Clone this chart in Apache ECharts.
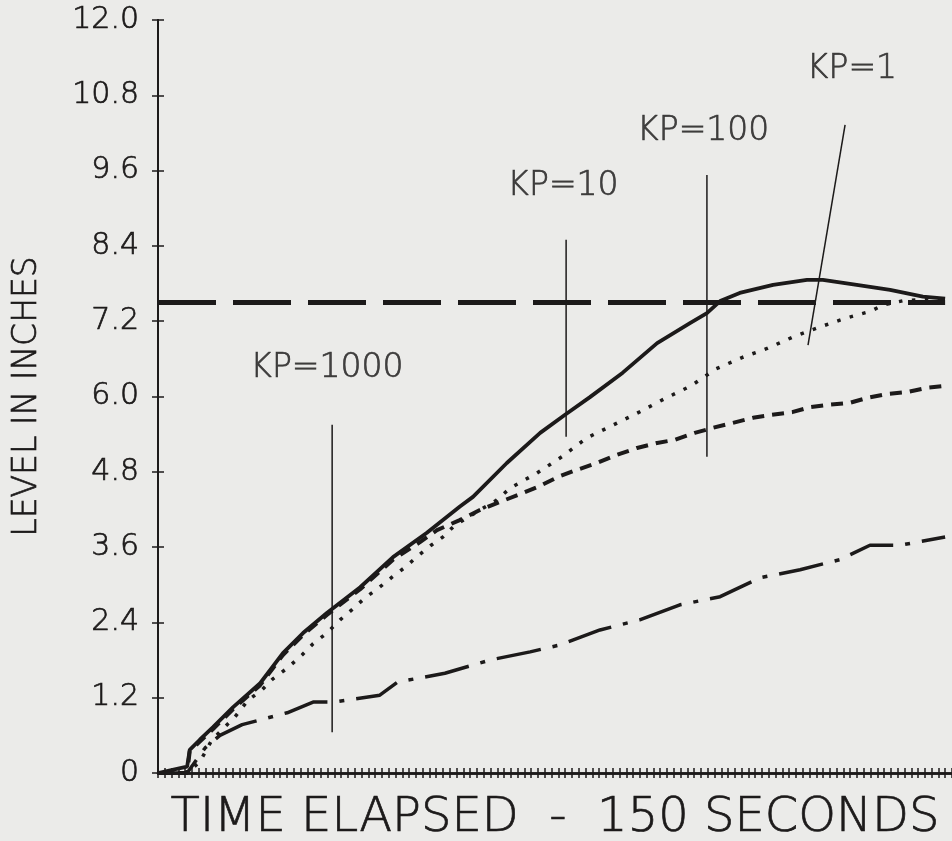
<!DOCTYPE html>
<html>
<head>
<meta charset="utf-8">
<script src="https://cdn.jsdelivr.net/npm/echarts@6/dist/echarts.min.js"></script>
<style>
  html, body { margin: 0; padding: 0; background: #ebebe9; }
  #main { width: 952px; height: 841px; }
</style>
</head>
<body>
<div id="main"></div>
<script>
// time in seconds (0..150), level in inches
const SETPOINT_T = [0, 148.7];
const SETPOINT_V = [7.5, 7.5];

const SOLID_T = [0, 5.5, 6.0, 7.9, 10.4, 14.2, 19.3, 23.6, 27.4, 31.9, 38.2, 44.4, 50.8, 57.1, 59.5, 65.9, 72.2, 76.9, 81.6, 87.8, 94.3, 100.5, 103.7, 106.2, 109.9, 116.2, 122.6, 125.6, 132.0, 138.3, 144.5, 148.7];
const SOLID_V = [0, 0.1, 0.37, 0.53, 0.73, 1.05, 1.43, 1.91, 2.23, 2.55, 2.96, 3.44, 3.83, 4.25, 4.40, 4.94, 5.42, 5.71, 5.99, 6.38, 6.85, 7.17, 7.33, 7.52, 7.65, 7.78, 7.86, 7.86, 7.78, 7.70, 7.59, 7.56];

const DOT_T = [0, 5.5, 7.9, 8.9, 10.2, 14.5, 17.0, 19.6, 21.7, 24.4, 27.2, 29.3, 31.9, 34.4, 36.6, 39.1, 41.7, 44.2, 46.7, 49.1, 51.6, 53.8, 56.1, 60.8, 64.0, 66.5, 71.6, 76.3, 81.0, 86.1, 90.9, 95.6, 100.7, 105.4, 110.3, 115.2, 120.0, 125.1, 130.0, 134.7, 137.0, 141.0, 148.7];
const DOT_V = [0, 0, 0.18, 0.33, 0.53, 0.89, 1.16, 1.32, 1.50, 1.67, 1.88, 2.06, 2.23, 2.44, 2.60, 2.79, 2.95, 3.12, 3.28, 3.46, 3.63, 3.76, 3.95, 4.19, 4.35, 4.54, 4.78, 5.04, 5.34, 5.55, 5.75, 5.96, 6.17, 6.44, 6.62, 6.77, 6.95, 7.11, 7.25, 7.36, 7.46, 7.53, 7.56];

const DASH_T = [0, 5.5, 6.0, 7.9, 10.4, 14.2, 19.3, 23.6, 27.4, 31.9, 38.2, 44.4, 49.5, 52.7, 57.0, 60.8, 64.6, 68.0, 71.8, 75.6, 79.1, 82.9, 86.7, 90.5, 94.3, 97.7, 101.4, 104.8, 108.6, 112.4, 116.0, 119.8, 123.2, 126.9, 130.7, 134.1, 137.7, 141.5, 145.3, 148.7];
const DASH_V = [0, 0, 0.35, 0.50, 0.70, 1.02, 1.40, 1.88, 2.20, 2.52, 2.93, 3.40, 3.68, 3.87, 4.03, 4.19, 4.32, 4.43, 4.56, 4.72, 4.83, 4.94, 5.07, 5.18, 5.26, 5.31, 5.42, 5.50, 5.58, 5.66, 5.71, 5.75, 5.83, 5.87, 5.90, 5.98, 6.04, 6.07, 6.14, 6.17];

const DASHDOT_T = [0, 5.5, 8.9, 11.7, 15.9, 24.4, 29.3, 33.1, 41.9, 45.3, 54.2, 62.7, 70.3, 75.9, 83.5, 91.0, 98.6, 106.2, 113.7, 121.3, 128.8, 134.5, 140.2, 148.7];
const DASHDOT_V = [0, 0, 0.40, 0.60, 0.77, 0.96, 1.13, 1.13, 1.24, 1.45, 1.59, 1.80, 1.93, 2.04, 2.28, 2.44, 2.68, 2.81, 3.11, 3.24, 3.40, 3.63, 3.63, 3.76];

// KP annotation pointer lines: [t0, v0, t1, v1]
const KP_NAMES = ['KP=1000', 'KP=10', 'KP=100', 'KP=1'];
const KP_LINES = [
  [32.9, 0.65, 32.9, 5.55],
  [77.1, 5.36, 77.1, 8.50],
  [103.7, 5.04, 103.7, 9.53],
  [122.8, 6.82, 129.8, 10.33]
];
const KP_LABEL_T = [31.9, 76.5, 103.0, 131.1];
const KP_LABEL_V = [6.44, 9.34, 10.22, 11.21];

const X_MAX = 150;
const X_TICK = 150 / 117;
const Y_TICKS = [0, 1.2, 2.4, 3.6, 4.8, 6.0, 7.2, 8.4, 9.6, 10.8, 12.0];

const INK = '#1c1a1a';
const FONT = 'DejaVu Sans';

const pairs = (t, v) => t.map((x, i) => [x, v[i]]);
const thinText = size => ({
  color: INK, fontFamily: FONT, fontSize: size, fontWeight: 200,
  textBorderColor: INK, textBorderWidth: 0.7
});

const chart = echarts.init(document.getElementById('main'));

const xBase = {
  type: 'value', min: 0, max: X_MAX, interval: X_TICK,
  splitLine: { show: false },
  axisLabel: { show: false },
  axisLine: { show: true, onZero: false, lineStyle: { color: INK, width: 2.5 } }
};
const yBase = {
  type: 'value', min: 0, max: Y_TICKS[Y_TICKS.length - 1], interval: 1.2,
  splitLine: { show: false },
  axisLine: { show: true, onZero: false, lineStyle: { color: INK, width: 2 } }
};

const series = [
  { name: 'setpoint', data: pairs(SETPOINT_T, SETPOINT_V), lineStyle: { width: 5, type: [58, 17] } },
  { name: 'solid', data: pairs(SOLID_T, SOLID_V), lineStyle: { width: 3.8, type: 'solid' } },
  { name: 'dotted', data: pairs(DOT_T, DOT_V), lineStyle: { width: 3.5, type: [3.5, 9.5] } },
  { name: 'dashed', data: pairs(DASH_T, DASH_V), lineStyle: { width: 4, type: [12, 8] } },
  { name: 'dashdot', data: pairs(DASHDOT_T, DASHDOT_V), lineStyle: { width: 3.5, type: [45, 12, 5, 12] } }
].map(s => Object.assign({
  type: 'line', xAxisIndex: 0, yAxisIndex: 0, showSymbol: false, symbol: 'none',
  silent: true, z: 3
}, s, { lineStyle: Object.assign({ color: INK, cap: 'butt' }, s.lineStyle) }));

KP_LINES.forEach((l, i) => {
  series.push({
    type: 'line', name: KP_NAMES[i] + ' pointer', xAxisIndex: 0, yAxisIndex: 0,
    data: [[l[0], l[1]], [l[2], l[3]]], symbol: 'none', silent: true, z: 2,
    lineStyle: { color: INK, width: 1.5 }
  });
});

series.push({
  type: 'scatter', name: 'labels', xAxisIndex: 0, yAxisIndex: 0, symbolSize: 0, silent: true,
  data: KP_NAMES.map((n, i) => ({ name: n, value: [KP_LABEL_T[i], KP_LABEL_V[i]] })),
  label: Object.assign({ show: true, position: 'inside', formatter: p => p.name }, thinText(33))
});

chart.setOption({
  backgroundColor: '#ebebe9',
  animation: false,
  grid: { left: 158, right: 0, top: 20, bottom: 68, outerBoundsMode: 'none', containLabel: false },
  xAxis: [
    Object.assign({}, xBase, {
      position: 'bottom',
      axisTick: { show: true, inside: false, length: 5, lineStyle: { color: INK, width: 1.5 } },
      name: 'TIME ELAPSED  -  150 SECONDS', nameLocation: 'middle', nameGap: 22,
      nameTextStyle: thinText(48)
    }),
    Object.assign({}, xBase, {
      position: 'bottom',
      axisTick: { show: true, inside: true, length: 5, lineStyle: { color: INK, width: 1.5 } }
    })
  ],
  yAxis: [
    Object.assign({}, yBase, {
      position: 'left',
      axisTick: { show: true, inside: false, length: 6, lineStyle: { color: INK, width: 1.5 } },
      axisLabel: Object.assign({ margin: 19, formatter: v => (v === 0 ? '0' : v.toFixed(1)) }, thinText(30)),
      name: 'LEVEL IN INCHES', nameLocation: 'middle', nameGap: 114,
      nameTextStyle: thinText(33)
    }),
    Object.assign({}, yBase, {
      position: 'left',
      axisTick: { show: true, inside: true, length: 6, lineStyle: { color: INK, width: 1.5 } },
      axisLabel: { show: false }
    })
  ],
  series: series
});
</script>
</body>
</html>
